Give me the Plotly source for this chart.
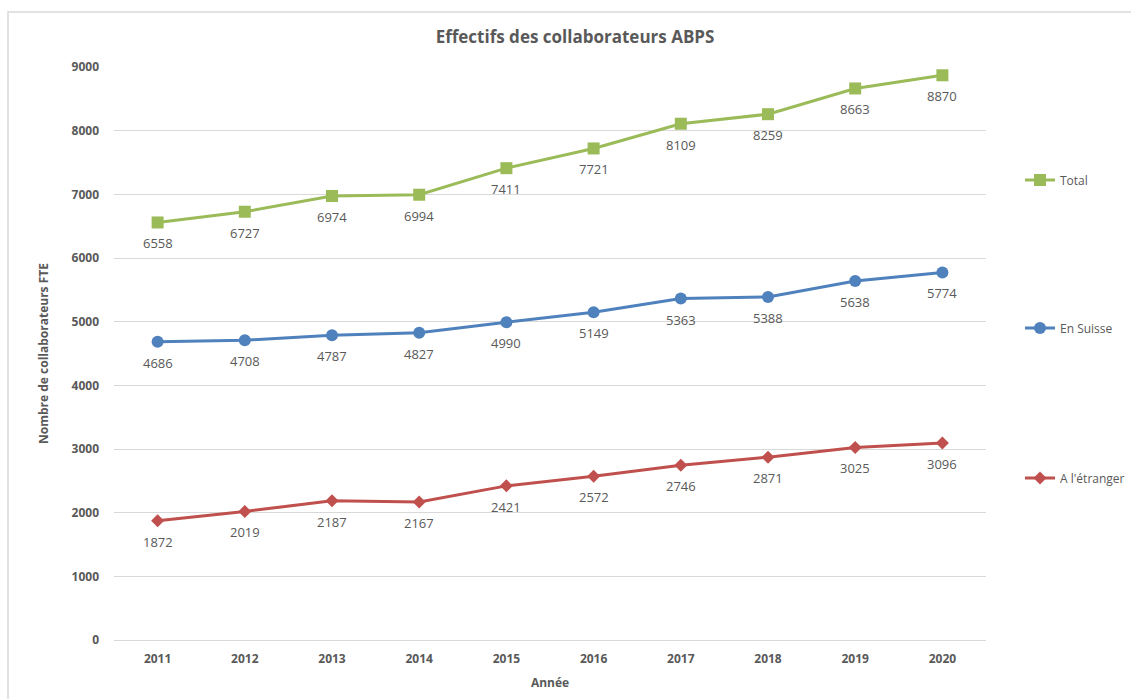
import plotly.graph_objects as go

years = ["2011", "2012", "2013", "2014", "2015", "2016", "2017", "2018", "2019", "2020"]
total = [6558, 6727, 6974, 6994, 7411, 7721, 8109, 8259, 8663, 8870]
suisse = [4686, 4708, 4787, 4827, 4990, 5149, 5363, 5388, 5638, 5774]
etranger = [1872, 2019, 2187, 2167, 2421, 2572, 2746, 2871, 3025, 3096]

FONT = "Open Sans"
GRAY = "#595959"

fig = go.Figure()
annotations = []

def add(name, vals, color, symbol, msize, legend):
    fig.add_trace(go.Scatter(
        x=years, y=vals, name=name, mode="lines+markers",
        line=dict(color=color, width=3),
        marker=dict(symbol=symbol, size=msize, color=color),
        legend=legend, showlegend=True, cliponaxis=False,
    ))
    for i, v in enumerate(vals):
        annotations.append(dict(x=i, y=v, xref="x", yref="y", text=str(v), showarrow=False,
                                yshift=-21, yanchor="middle",
                                font=dict(family=FONT, size=13, color=GRAY)))

add("Total", total, "#9BBB59", "square", 12, "legend")
add("En Suisse", suisse, "#4F81BD", "circle", 12, "legend2")
add("A l'étranger", etranger, "#C0504D", "diamond", 10, "legend3")

leg_common = dict(xref="container", yref="container", xanchor="left", yanchor="middle",
                  font=dict(family=FONT, size=12, color=GRAY), bgcolor="rgba(0,0,0,0)",
                  itemwidth=30, tracegroupgap=0, visible=True)

fig.update_layout(
    width=1131, height=699,
    showlegend=True,
    margin=dict(l=114, r=145, t=67, b=59),
    paper_bgcolor="white", plot_bgcolor="white",
    title=dict(text="<b>Effectifs des collaborateurs ABPS</b>", x=575 / 1131, xanchor="center",
               xref="container",
               y=1 - 37 / 699, yref="container", yanchor="middle",
               font=dict(family=FONT, size=17, color=GRAY)),
    xaxis=dict(type="category", range=[-0.5, 9.5], showgrid=False, showline=False,
               ticks="", zeroline=False, ticklabelstandoff=10,
               tickfont=dict(family=FONT, size=12, color=GRAY, weight="bold"),
               title=dict(text="<b>Année</b>", font=dict(family=FONT, size=12, color=GRAY), standoff=12)),
    yaxis=dict(range=[0, 9000], dtick=1000, showgrid=True, gridcolor="#D9D9D9", gridwidth=1,
               zeroline=True, zerolinecolor="#D9D9D9", zerolinewidth=1, showline=False,
               tickfont=dict(family=FONT, size=12, color=GRAY, weight="bold"),
               ticklabelstandoff=14,
               title=dict(text="<b>Nombre de collaborateurs FTE</b>",
                          font=dict(family=FONT, size=12, color=GRAY), standoff=20)),
    legend=dict(x=1020 / 1131, y=1 - 180 / 699, **leg_common),
    legend2=dict(x=1020 / 1131, y=1 - 328 / 699, **leg_common),
    legend3=dict(x=1020 / 1131, y=1 - 478 / 699, **leg_common),
    annotations=annotations,
    shapes=[dict(type="rect", xref="paper", yref="paper",
                 x0=(8 - 114) / 872, x1=(1140 - 114) / 872,
                 y0=(640 - 710) / 573, y1=(640 - 12) / 573,
                 line=dict(color="#D9D9D9", width=1.5), fillcolor="rgba(0,0,0,0)", layer="below")],
)

fig.write_html("out.html")
